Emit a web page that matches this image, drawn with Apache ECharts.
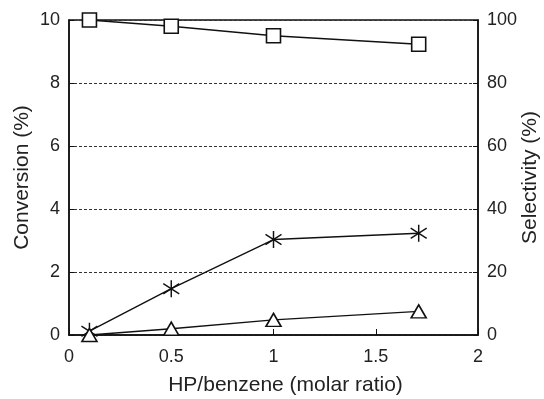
<!DOCTYPE html>
<html>
<head>
<meta charset="utf-8">
<script src="https://cdn.jsdelivr.net/npm/echarts@6/dist/echarts.min.js"></script>
<style>html,body{margin:0;padding:0;background:#fff}#c{width:544px;height:399px}</style>
</head>
<body>
<div id="c"></div>
<script>
var ratio = [0.1, 0.5, 1.0, 1.71];
var selectivity = [100, 98, 95, 92.3];
var convStar = [0.12, 1.47, 3.03, 3.23];
var convTri = [0, 0.2, 0.48, 0.75];
var xTicks = [0, 0.5, 1, 1.5, 2];
var leftTicks = [0, 2, 4, 6, 8, 10];
var rightTicks = [0, 20, 40, 60, 80, 100];

function pairs(xs, ys) { return xs.map(function (x, i) { return [x, ys[i]]; }); }

var font = 'Liberation Sans, Arial, sans-serif';
var chart = echarts.init(document.getElementById('c'));
var star = 'path://M0,-10L0,10M-8.5,-6L8.5,6M-8.5,6L8.5,-6';
var common = {
  type: 'line',
  lineStyle: { color: '#111', width: 1.4 },
  itemStyle: { color: '#fff', borderColor: '#111', borderWidth: 1.6 },
  showAllSymbol: true,
  animation: false,
  z: 3
};
chart.setOption({
  animation: false,
  backgroundColor: '#fff',
  grid: { left: 69, right: 66, top: 20, bottom: 64, show: true, borderColor: '#111', borderWidth: 1.5, outerBoundsMode: 'none', containLabel: false },
  xAxis: {
    type: 'value', min: 0, max: 2, interval: 0.5,
    name: 'HP/benzene (molar ratio)', nameLocation: 'middle', nameGap: 40, nameMoveOverlap: false,
    nameTextStyle: { fontFamily: font, fontSize: 21, color: '#222', padding: [0, 0, 0, 24] },
    axisLine: { lineStyle: { color: '#111', width: 1.5 } },
    axisTick: { inside: true, length: 6, lineStyle: { color: '#111' } },
    axisLabel: { fontFamily: font, fontSize: 18, color: '#222', margin: 13, formatter: function (v) { return xTicks.indexOf(v) >= 0 ? String(v) : ''; } },
    splitLine: { show: false }
  },
  yAxis: [{
    type: 'value', min: 0, max: 10, interval: 2,
    name: 'Conversion (%)', nameLocation: 'middle', nameGap: 36, nameRotate: 90, nameMoveOverlap: false,
    nameTextStyle: { fontFamily: font, fontSize: 21, color: '#222' },
    axisLine: { show: true, lineStyle: { color: '#111', width: 1.5 } },
    axisTick: { show: true, inside: true, length: 5, lineStyle: { color: '#111' } },
    axisLabel: { fontFamily: font, fontSize: 18, color: '#222', margin: 9, formatter: function (v) { return leftTicks.indexOf(v) >= 0 ? String(v) : ''; } },
    splitLine: { show: true, lineStyle: { type: [3, 2], color: '#333', width: 1 } }
  }, {
    type: 'value', min: 0, max: 100, interval: 20, position: 'right',
    name: 'Selectivity (%)', nameLocation: 'middle', nameGap: 42, nameRotate: 90, nameMoveOverlap: false,
    nameTextStyle: { fontFamily: font, fontSize: 21, color: '#222' },
    axisLine: { show: true, lineStyle: { color: '#111', width: 1.5 } },
    axisTick: { show: true, inside: true, length: 5, lineStyle: { color: '#111' } },
    axisLabel: { fontFamily: font, fontSize: 18, color: '#222', margin: 9, formatter: function (v) { return rightTicks.indexOf(v) >= 0 ? String(v) : ''; } },
    splitLine: { show: false }
  }],
  series: [
    Object.assign({}, common, { name: 'Selectivity', yAxisIndex: 1, data: pairs(ratio, selectivity), symbol: 'rect', symbolSize: 14 }),
    Object.assign({}, common, { name: 'Conversion A', yAxisIndex: 0, data: pairs(ratio, convStar), symbol: star, symbolSize: [16, 17], itemStyle: { color: 'none', borderColor: '#111', borderWidth: 1.5 } }),
    Object.assign({}, common, { name: 'Conversion B', yAxisIndex: 0, data: pairs(ratio, convTri), symbol: 'triangle', symbolSize: [15, 13] })
  ]
});
</script>
</body>
</html>
